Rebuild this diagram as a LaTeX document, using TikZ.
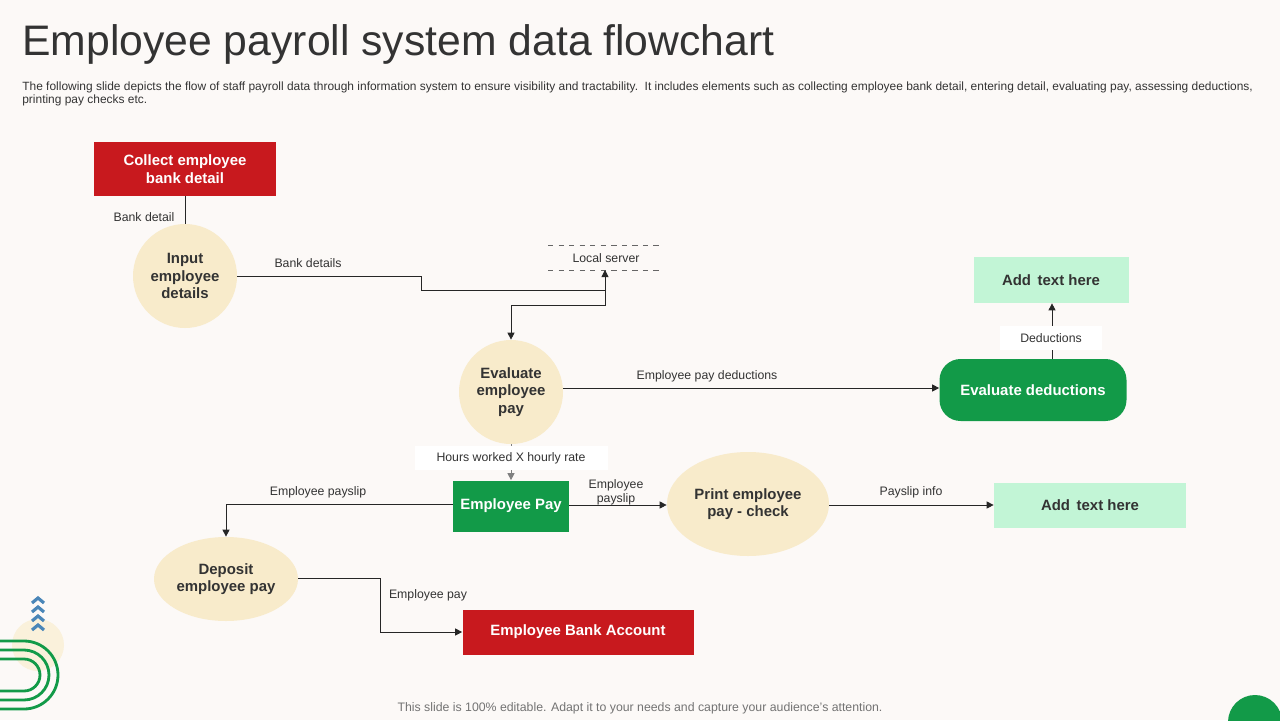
\documentclass[tikz,border=0pt]{standalone}
\usepackage{fontspec}
\setmainfont{Liberation Sans}
\usetikzlibrary{arrows.meta,shapes.geometric}
\definecolor{bg}{HTML}{FCF9F7}
\definecolor{redbox}{HTML}{C8191E}
\definecolor{greenbox}{HTML}{129A48}
\definecolor{lightgreen}{HTML}{C2F5D6}
\definecolor{beige}{HTML}{F8EBCB}
\definecolor{txt}{HTML}{333333}
\definecolor{chev}{HTML}{4A86B8}
\begin{document}
\begin{tikzpicture}[x=0.02cm,y=-0.02cm]

	\tikzset{
		redrect/.style={fill=redbox,text=white,font=\fontsize{8.5}{10}\selectfont\bfseries,align=center,inner sep=0pt},
		greenrect/.style={fill=greenbox,text=white,font=\fontsize{8.5}{10}\selectfont\bfseries,align=center,inner sep=0pt},
		lightrect/.style={fill=lightgreen,text=txt,font=\fontsize{8.5}{10}\selectfont\bfseries,align=center,inner sep=0pt},
		bubble/.style={ellipse,fill=beige,text=txt,font=\fontsize{8.5}{10}\selectfont\bfseries,align=center,inner sep=0pt},
		lab/.style={text=txt,font=\fontsize{7}{8}\selectfont,align=center,inner sep=1pt},
		flow/.style={draw=black!85,line width=0.5pt},
		arr/.style={flow,-{Triangle[length=4pt,width=4pt]}}
	}

	\fill[bg] (0,0) rectangle (1280,720);
	\useasboundingbox (0,0) rectangle (1280,720);

	% title
	\node[anchor=west,text=txt,font=\fontsize{24.3}{27}\selectfont,inner sep=0pt] (title) at (22,44) {Employee payroll system data flowchart};
	\node[anchor=north west,text=txt,font=\fontsize{6.8}{7.8}\selectfont,align=left,inner sep=0pt] (sub) at (22,81)
		{The following slide depicts the flow of staff payroll data through information system to ensure visibility and tractability.\ \ It includes elements such as collecting employee bank detail, entering detail, evaluating pay, assessing deductions,\\ printing pay checks etc.};

	% boxes
	\node[redrect,minimum width=182*0.02cm,minimum height=54*0.02cm] (collect) at (185,169) {Collect employee\\bank detail};
	\node[bubble,minimum width=104*0.02cm,minimum height=104*0.02cm] (input) at (185,276) {Input\\employee\\details};
	\node[bubble,minimum width=104*0.02cm,minimum height=104*0.02cm] (evalpay) at (511,392) {Evaluate\\employee\\pay};
	\node[greenrect,rounded corners=12pt,minimum width=187*0.02cm,minimum height=62*0.02cm] (evalded) at (1033,390) {Evaluate deductions};
	\node[lightrect,minimum width=155*0.02cm,minimum height=46*0.02cm] (addtop) at (1051,280) {Add\, text here};
	\node[greenrect,minimum width=116*0.02cm,minimum height=51*0.02cm] (emppay) at (511,506) {Employee Pay};
	\node[bubble,minimum width=162*0.02cm,minimum height=104*0.02cm] (print) at (748,504) {Print employee\\pay - check};
	\node[lightrect,minimum width=192*0.02cm,minimum height=45*0.02cm] (addbot) at (1090,505) {Add\, text here};
	\node[bubble,minimum width=144*0.02cm,minimum height=84*0.02cm] (deposit) at (226,579) {Deposit\\employee pay};
	\node[redrect,minimum width=231*0.02cm,minimum height=45*0.02cm] (bank) at (578,632) {Employee Bank Account};

	% local server
	\coordinate (srvA) at (548,245); \coordinate (srvB) at (663,245);
	\coordinate (srvC) at (548,270); \coordinate (srvD) at (663,270);
	\draw[dashed,black!60,line width=0.5pt] (srvA) -- (srvB);
	\draw[dashed,black!60,line width=0.5pt] (srvC) -- (srvD);
	\node[lab] (server) at (606,258) {Local server};

	% connectors
	\draw[flow] (collect.south) -- (input.north);
	\node[lab] at (144,217) {Bank detail};

	\coordinate (srvin) at (605,270);
	\draw[arr] (input.east) -- (421,276) -- (421,290) -- (605,290) -- (srvin);
	\node[lab] at (308,263) {Bank details};
	\draw[arr] (605,290) -- (605,305) -| (evalpay.north);

	\draw[arr] (evalpay.east |- 0,388) -- (evalded.west |- 0,388);
	\node[lab] at (707,376) {Employee pay deductions};

	\draw[arr] (evalded.north -| 1052,0) -- (addtop.south -| 1052,0);
	\node[lab,fill=white,minimum width=102*0.02cm,minimum height=24*0.02cm] at (1051,338) {Deductions};

	\draw[flow,black!50,-{Triangle[length=4pt,width=4pt]}] (evalpay.south) -- (emppay.north);
	\node[lab,fill=white,minimum width=193*0.02cm,minimum height=24*0.02cm] at (511,458) {Hours worked X hourly rate};

	\draw[arr] (emppay.west |- 0,504) -| (deposit.north);
	\node[lab] at (318,492) {Employee payslip};

	\draw[arr] (emppay.east |- 0,505) -- (print.west |- 0,505);
	\node[lab] at (616,492) {Employee\\payslip};

	\draw[arr] (print.east |- 0,505) -- (addbot.west);
	\node[lab] at (911,492) {Payslip info};

	\draw[arr] (deposit.east |- 0,578) -- (380,578) -- (380,632) -- (bank.west);
	\node[lab] at (428,595) {Employee pay};

	% footer
	\node[text=black!55,font=\fontsize{7}{8}\selectfont] (foot) at (640,708) {This slide is 100\% editable. Adapt it to your needs and capture your audience's attention.};

	% decorations
	\fill[greenbox] (1255,722) circle (27);
	\fill[beige!70] (38,645) circle (26);
	\foreach \r in {16,25,34} {
		\draw[greenbox,line width=1.6pt] (0,675-\r) -- (24,675-\r) arc[start angle=90,end angle=-90,radius=\r*0.02cm] -- (0,675+\r);
	}
	\foreach \y in {598,607,616,625} {
		\draw[chev,line width=1.8pt] (32,\y+5) -- (38,\y) -- (44,\y+5);
	}

\end{tikzpicture}
\end{document}
